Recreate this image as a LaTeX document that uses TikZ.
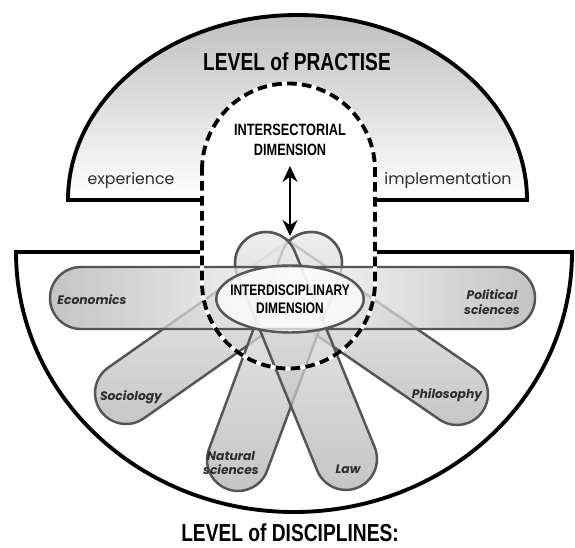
\documentclass[tikz,border=0pt]{standalone}
\usepackage{fontspec}
\setmainfont{Poppins}
\newfontfamily\condfont[FakeStretch=0.78]{Liberation Sans}
\usetikzlibrary{arrows.meta, positioning, shapes.geometric}
\definecolor{pillgray}{RGB}{85, 85, 85}
\definecolor{labelgray}{RGB}{45, 45, 45}

\begin{document}
\begin{tikzpicture}[
    outline/.style={draw=black, line width=2.2pt},
    pill/.style={rectangle, rounded corners=0.62cm, minimum height=1.24cm, inner sep=0pt, draw=pillgray, line width=1.4pt, top color=gray!12, bottom color=gray!62, fill opacity=0.75, draw opacity=1},
    barpill/.style={pill, left color=gray!62, right color=gray!62, middle color=gray!8},
    dimtext/.style={font=\condfont\bfseries\fontsize{8.7}{10.5}\selectfont, align=center, text=black},
    leveltext/.style={font=\condfont\bfseries\fontsize{14}{16}\selectfont, text=black},
    sidetext/.style={font=\fontsize{9}{10}\selectfont, text=labelgray},
    disctext/.style={font=\bfseries\itshape\fontsize{7}{8.5}\selectfont, align=center, text=labelgray},
    dashline/.style={line width=2.2pt, dash pattern=on 5.5pt off 3pt},
    dblarrow/.style={{Stealth[length=3.2mm, width=3mm]}-{Stealth[length=3.2mm, width=3mm]}, line width=1.3pt}
]
\useasboundingbox (0,0) rectangle (11.5,10.94);

% level of practise (upper half)
\path[top color=gray!50, bottom color=white] (4.04,6.94) -- (1.36,6.94) arc[start angle=180, end angle=0, x radius=4.59, y radius=3.70] -- (7.50,6.94) -- cycle;
\fill[white] (4.04,6.94) -- (4.04,7.54) arc[start angle=180, end angle=0, radius=1.73] -- (7.50,6.94) -- cycle;
\draw[outline] (4.04,7.08) -- (4.04,6.94) -- (1.36,6.94) arc[start angle=180, end angle=0, x radius=4.59, y radius=3.70] -- (7.50,6.94) -- (7.50,7.08);

% level of disciplines (lower half)
\draw[outline, fill=white] (4.04,6.02) -- (4.04,5.90) -- (0.32,5.90) arc[start angle=180, end angle=360, x radius=5.56, y radius=5.20] -- (7.50,5.90) -- (7.50,6.02);

% disciplines
\node[pill, minimum width=5.76cm, rotate=35.1] (soc) at (4.37,4.38) {};
\node[pill, minimum width=5.87cm, rotate=145.55] (phil) at (7.23,4.37) {};
\node[pill, minimum width=5.44cm, rotate=69.67] (nat) at (5.49,3.71) {};
\node[pill, minimum width=5.47cm, rotate=112.2] (law) at (6.12,3.72) {};
\node[barpill, minimum width=9.70cm] (bar) at (5.85,4.98) {};

\node[ellipse, draw=pillgray, line width=1.4pt, fill=white, fill opacity=0.7, minimum width=2.95cm, minimum height=1.34cm] (inter) at (5.80,4.96) {};
\node[dimtext] (intertext) at (inter.center) {INTERDISCIPLINARY\\DIMENSION};

% dashed boundary of the intersectorial dimension
\draw[white, line width=2.2pt] (4.04,7.54) arc[start angle=180, end angle=0, radius=1.73] -- (7.50,5.30) arc[start angle=0, end angle=-180, radius=1.73] -- cycle;
\draw[dashline] (4.04,7.54) arc[start angle=180, end angle=0, radius=1.73] -- (7.50,5.30) arc[start angle=0, end angle=-180, radius=1.73] -- cycle;

% labels
\node[leveltext] (practise) at (5.94,9.70) {LEVEL of PRACTISE};
\node[dimtext, font=\condfont\bfseries\fontsize{9.3}{11}\selectfont] (sector) at (5.80,8.14) {INTERSECTORIAL\\DIMENSION};
\node[sidetext] (exp) at (2.62,7.32) {experience};
\node[sidetext] (impl) at (8.96,7.32) {implementation};
\node[disctext] (econ) at (1.84,4.94) {Economics};
\node[disctext] (pol) at (9.84,4.90) {Political\\sciences};
\node[disctext] (socl) at (2.62,3.00) {Sociology};
\node[disctext] (phill) at (8.94,3.04) {Philosophy};
\node[disctext] (natl) at (4.62,1.68) {Natural\\sciences};
\node[disctext] (lawl) at (6.96,1.56) {Law};
\node[leveltext] (disc) at (5.80,0.28) {LEVEL of DISCIPLINES:};

% link between the two dimensions
\coordinate (arrtop) at (5.80,7.62);
\coordinate (arrbot) at (5.80,6.22);
\draw[dblarrow] (arrtop) -- (arrbot);

\end{tikzpicture}
\end{document}
